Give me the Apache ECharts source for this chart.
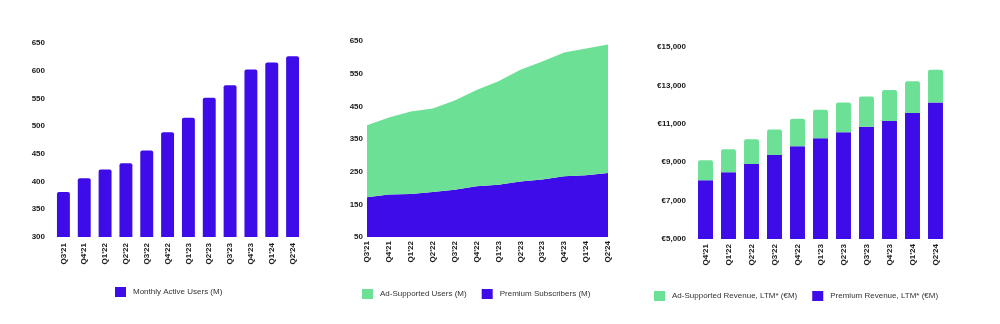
<!DOCTYPE html>
<html>
<head>
<meta charset="utf-8">
<script src="https://cdn.jsdelivr.net/npm/echarts@6/dist/echarts.min.js"></script>
<style>
html,body{margin:0;padding:0;background:#fff;}
#c{width:1000px;height:324px;}
</style>
</head>
<body>
<div id="c"></div>
<script>
// Chart 1: Monthly Active Users
const mauQuarters = ["Q3'21","Q4'21","Q1'22","Q2'22","Q3'22","Q4'22","Q1'23","Q2'23","Q3'23","Q4'23","Q1'24","Q2'24"];
const mauValues = [381, 406, 422, 433, 456, 489, 515, 551, 574, 602, 615, 626];

// Chart 2: Premium subscribers and ad-supported users (stacked area)
const userQuarters = ["Q3'21","Q4'21","Q1'22","Q2'22","Q3'22","Q4'22","Q1'23","Q2'23","Q3'23","Q4'23","Q1'24","Q2'24"];
const premiumSubs = [172, 180, 182, 188, 195, 205, 210, 220, 226, 236, 239, 246];
const adUsers = [220, 236, 252, 255, 273, 295, 317, 342, 361, 379, 388, 393];

// Chart 3: LTM revenue (stacked bars)
const revQuarters = ["Q4'21","Q1'22","Q2'22","Q3'22","Q4'22","Q1'23","Q2'23","Q3'23","Q4'23","Q1'24","Q2'24"];
const premiumRevenue = [8060, 8480, 8900, 9370, 9835, 10250, 10565, 10845, 11140, 11560, 12115];
const adRevenue = [1045, 1200, 1300, 1335, 1425, 1480, 1548, 1582, 1618, 1650, 1702];

const PURPLE = '#3d0ce8';
const GREEN = '#6ce196';
const FONT = '"Liberation Sans", Arial, sans-serif';
const TXT = '#1a1a1a';

function catAxis(idx, data, boundaryGap, margin) {
  return {
    type: 'category', gridIndex: idx, data: data, boundaryGap: boundaryGap,
    axisLine: {show: false}, axisTick: {show: false},
    axisLabel: {rotate: 90, fontSize: 8, fontWeight: 'bold', fontFamily: FONT, color: TXT, margin: margin, interval: 0}
  };
}
function valAxis(idx, min, max, interval, margin, fmt) {
  return {
    type: 'value', gridIndex: idx, min: min, max: max, interval: interval,
    axisLine: {show: false}, axisTick: {show: false}, splitLine: {show: false},
    axisLabel: {fontSize: 8, fontWeight: 'bold', fontFamily: FONT, color: TXT, margin: margin, formatter: fmt}
  };
}
const legendText = {fontSize: 8, fontFamily: FONT, color: '#333', padding: [0, 0, 0, 2]};

const chart = echarts.init(document.getElementById('c'), null, {renderer: 'canvas'});
chart.setOption({
  animation: false,
  backgroundColor: '#fff',
  grid: [
    {left: 53, right: 697, top: 43, bottom: 87},
    {left: 367, right: 392, top: 41, bottom: 87},
    {left: 694, right: 53, top: 47, bottom: 85}
  ],
  xAxis: [
    catAxis(0, mauQuarters, true, 6),
    catAxis(1, userQuarters, false, 4),
    catAxis(2, revQuarters, true, 5)
  ],
  yAxis: [
    valAxis(0, 300, 650, 50, 8),
    valAxis(1, 50, 650, 100, 4),
    valAxis(2, 5000, 15000, 2000, 8, v => '€' + v.toLocaleString('en-US'))
  ],
  legend: [
    {data: ['Monthly Active Users (M)'], left: 115, top: 287, padding: 0, icon: 'rect', itemWidth: 11, itemHeight: 10, itemGap: 15, textStyle: legendText},
    {data: ['Ad-Supported Users (M)', 'Premium Subscribers (M)'], left: 362, top: 289, padding: 0, icon: 'rect', itemWidth: 11, itemHeight: 10, itemGap: 15, textStyle: legendText},
    {data: ['Ad-Supported Revenue, LTM* (€M)', 'Premium Revenue, LTM* (€M)'], left: 654, top: 291, width: 340, padding: 0, icon: 'rect', itemWidth: 11, itemHeight: 10, itemGap: 15, textStyle: legendText}
  ],
  series: [
    {name: 'Monthly Active Users (M)', type: 'bar', xAxisIndex: 0, yAxisIndex: 0, data: mauValues,
     barWidth: '62%', itemStyle: {color: PURPLE, borderRadius: [2,2,0,0]}},
    {name: 'Premium Subscribers (M)', type: 'line', xAxisIndex: 1, yAxisIndex: 1, stack: 'users', data: premiumSubs,
     symbol: 'none', lineStyle: {width: 0}, itemStyle: {color: PURPLE}, areaStyle: {color: PURPLE, opacity: 1}},
    {name: 'Ad-Supported Users (M)', type: 'line', xAxisIndex: 1, yAxisIndex: 1, stack: 'users', data: adUsers,
     symbol: 'none', lineStyle: {width: 0}, itemStyle: {color: GREEN}, areaStyle: {color: GREEN, opacity: 1}},
    {name: 'Premium Revenue, LTM* (€M)', type: 'bar', xAxisIndex: 2, yAxisIndex: 2, stack: 'rev', data: premiumRevenue,
     barWidth: '65%', itemStyle: {color: PURPLE}},
    {name: 'Ad-Supported Revenue, LTM* (€M)', type: 'bar', xAxisIndex: 2, yAxisIndex: 2, stack: 'rev', data: adRevenue,
     barWidth: '65%', itemStyle: {color: GREEN, borderRadius: [2,2,0,0]}}
  ]
});
</script>
</body>
</html>
